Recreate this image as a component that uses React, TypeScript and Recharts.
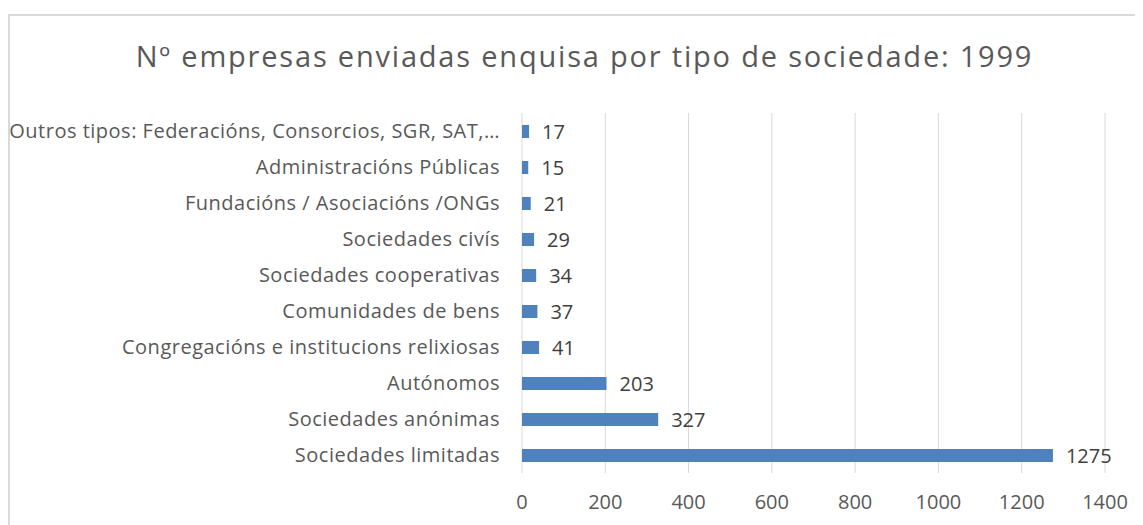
import React from "react";
import { BarChart, Bar, XAxis, YAxis, CartesianGrid, LabelList } from "recharts";

const categories = [
  "Outros tipos: Federacións, Consorcios, SGR, SAT,…",
  "Administracións Públicas ",
  "Fundacións / Asociacións /ONGs",
  "Sociedades civís",
  "Sociedades cooperativas",
  "Comunidades de bens",
  "Congregacións e institucions relixiosas",
  "Autónomos",
  "Sociedades anónimas",
  "Sociedades limitadas",
];
const values = [17, 15, 21, 29, 34, 37, 41, 203, 327, 1275];
const xTicks = [0, 200, 400, 600, 800, 1000, 1200, 1400];
const title = "Nº empresas enviadas enquisa por tipo de sociedade: 1999";

const data = categories.map((name, i) => ({ name, value: values[i] }));

const FONT = "'Open Sans', sans-serif";

export default function App() {
  return (
    <div style={{ position: "relative", width: 1135, height: 517, overflow: "hidden", fontFamily: FONT }}>
      <div
        style={{
          position: "absolute",
          left: 0,
          top: 6,
          width: 1300,
          height: 700,
          borderLeft: "2px solid #d9d9d9",
          borderTop: "2px solid #d9d9d9",
          boxSizing: "border-box",
        }}
      />
      <div
        style={{
          position: "absolute",
          left: 0,
          top: 28,
          width: 1153,
          textAlign: "center",
          fontSize: 29,
          letterSpacing: 1.8,
          lineHeight: "normal",
          color: "#595959",
          whiteSpace: "nowrap",
        }}
      >
        {title}
      </div>
      <div style={{ position: "absolute", left: 0, top: 0 }}>
        <BarChart
          width={1135}
          height={517}
          data={data}
          layout="vertical"
          margin={{ top: 105, right: 38, bottom: 22, left: 0 }}
        >
          <CartesianGrid horizontal={false} stroke="#d9d9d9" strokeWidth={1} />
          <XAxis
            type="number"
            domain={[0, 1400]}
            ticks={xTicks}
            axisLine={false}
            tickLine={false}
            tickSize={0}
            tickMargin={22}
            height={30}
            tick={{ fill: "#595959", fontSize: 20, fontFamily: FONT }}
            interval={0}
          />
          <YAxis
            type="category"
            dataKey="name"
            width={514}
            axisLine={false}
            tickLine={false}
            tickSize={0}
            tickMargin={22}
            interval={0}
            tick={{ fill: "#595959", fontSize: 20, fontFamily: FONT, letterSpacing: 0.5 }}
          />
          <Bar dataKey="value" fill="#4F81BD" barSize={13} isAnimationActive={false}>
            <LabelList
              dataKey="value"
              position="right"
              offset={13}
              fill="#404040"
              fontSize={20}
              fontFamily={FONT}
            />
          </Bar>
        </BarChart>
      </div>
    </div>
  );
}
